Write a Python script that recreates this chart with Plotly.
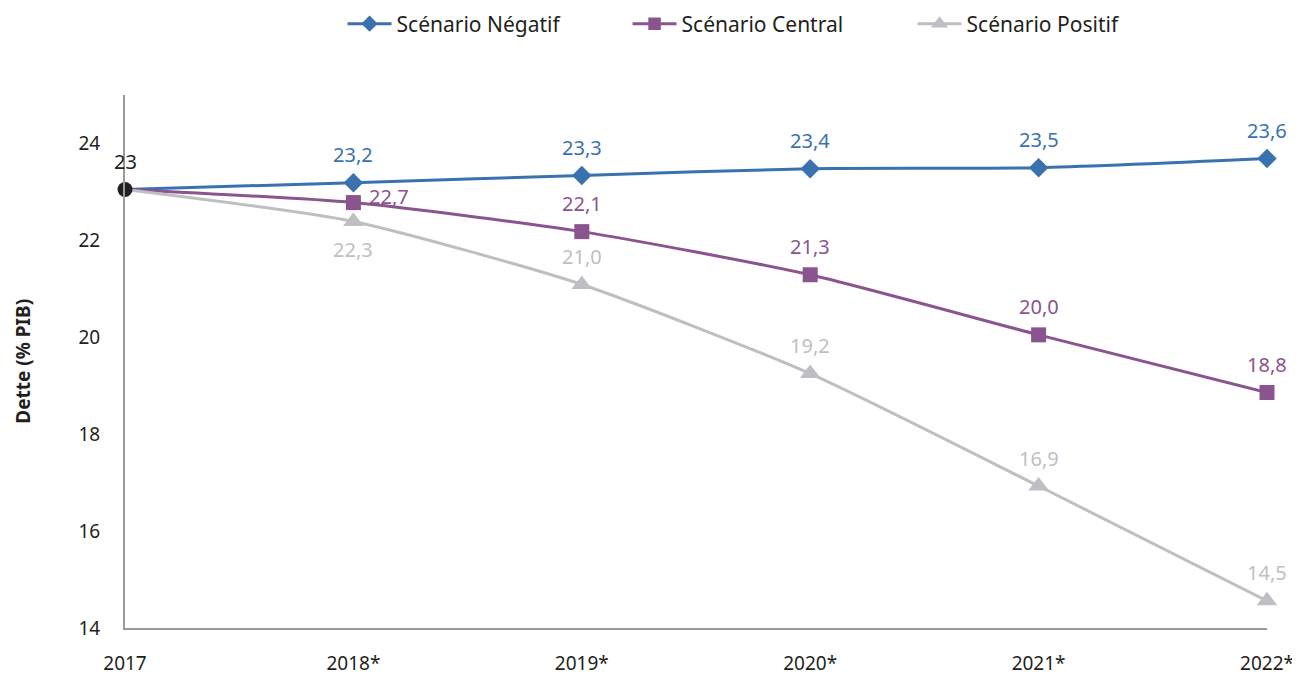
import plotly.graph_objects as go

years = ["2017", "2018*", "2019*", "2020*", "2021*", "2022*"]
negatif = [23.05, 23.19, 23.34, 23.48, 23.50, 23.69]
central = [23.05, 22.78, 22.18, 21.29, 20.05, 18.86]
positif = [23.05, 22.39, 21.09, 19.25, 16.93, 14.56]
negatif_lbl = ["", "23,2", "23,3", "23,4", "23,5", "23,6"]
central_lbl = ["", "22,7", "22,1", "21,3", "20,0", "18,8"]
positif_lbl = ["", "22,3", "21,0", "19,2", "16,9", "14,5"]
start_lbl = "23"

FONT = "Noto Sans"
BLUE = "#3A72B0"
PURPLE = "#8A548E"
GRAY = "#BEBFC2"
BLACK = "#231F20"

fig = go.Figure()
annotations = []

def add(name, vals, labels, color, symbol, size, shifts):
    fig.add_trace(go.Scatter(
        x=years, y=vals, name=name, mode="lines+markers",
        line=dict(color=color, width=3, shape="spline", smoothing=0.6),
        marker=dict(symbol=symbol, color=color, size=[0] + [size] * 5,
                    opacity=1, line=dict(width=0)),
        cliponaxis=False,
    ))
    for i, (y, t, (dx, dy)) in enumerate(zip(vals, labels, shifts)):
        if t:
            annotations.append(dict(
                x=i, y=y, text=t, showarrow=False, xshift=dx, yshift=dy,
                font=dict(family=FONT, size=20, color=color)))

add("Scénario Négatif", negatif, negatif_lbl, BLUE, "diamond", 15,
    [(0, 28)] * 6)
add("Scénario Central", central, central_lbl, PURPLE, "square", 15,
    [(0, 28), (36, 6)] + [(0, 28)] * 4)
add("Scénario Positif", positif, positif_lbl, GRAY, "triangle-up", 18,
    [(0, 28), (0, -28)] + [(0, 28)] * 4)

fig.add_trace(go.Scatter(
    x=[years[0]], y=[negatif[0]], mode="markers", showlegend=False,
    marker=dict(color=BLACK, size=15, opacity=1),
    cliponaxis=False,
))
annotations.append(dict(x=0, y=negatif[0], text=start_lbl,
                        showarrow=False, yshift=28,
                        font=dict(family=FONT, size=20, color=BLACK)))
annotations.append(dict(xref="paper", yref="paper", x=-0.090, y=0.5,
                        xanchor="center", yanchor="middle",
                        text="<b>Dette (% PIB)</b>", textangle=-90,
                        showarrow=False,
                        font=dict(family=FONT, size=19, color=BLACK)))

fig.update_layout(
    width=1300, height=675,
    margin=dict(l=117, r=41, t=87, b=55, autoexpand=False),
    plot_bgcolor="white", paper_bgcolor="white",
    font=dict(family=FONT, size=19, color=BLACK),
    legend=dict(orientation="h", x=0.1905, xanchor="left",
                yref="container", y=1 - 16 / 675, yanchor="middle",
                font=dict(size=21), itemwidth=44, tracegroupgap=0,
                entrywidth=226, entrywidthmode="pixels"),
    xaxis=dict(range=[0, 5], showgrid=False, showline=True,
               linecolor="#9A9A9A", linewidth=2, ticks="",
               ticklabelstandoff=17, zeroline=False, automargin=False),
    yaxis=dict(range=[14, 25], tickvals=[14, 16, 18, 20, 22, 24],
               showgrid=False, showline=True, linecolor="#9A9A9A",
               linewidth=2, ticks="", ticklabelstandoff=19, zeroline=False,
               automargin=False),
    annotations=annotations,
)

fig.write_html("out.html")
